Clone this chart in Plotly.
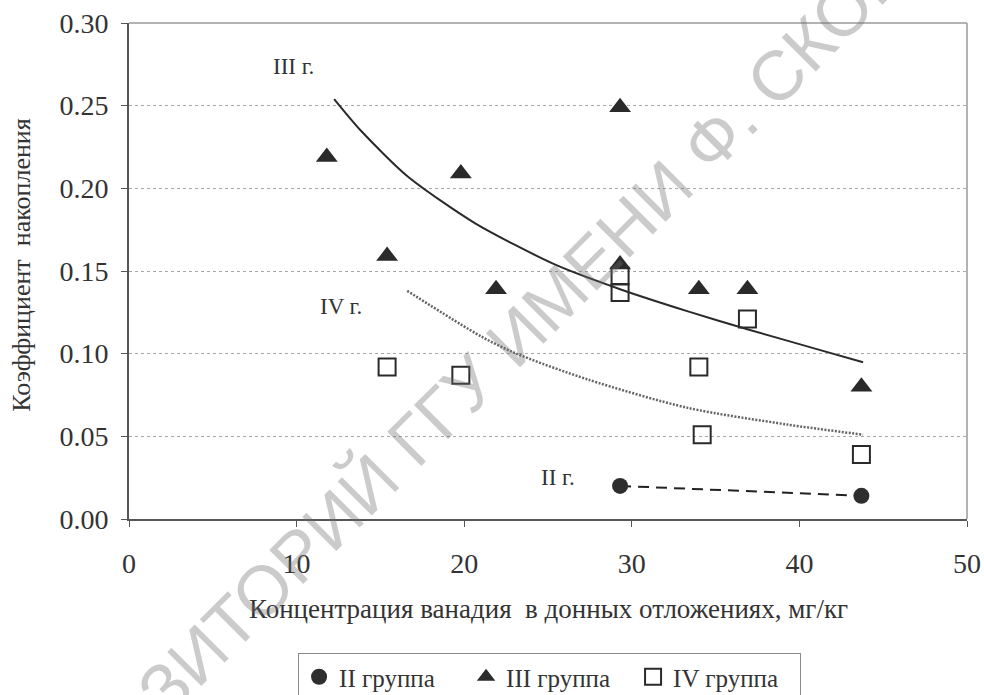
import plotly.graph_objects as go

# ---- data ----
grp2_x = [29.3, 43.7]
grp2_y = [0.020, 0.014]

grp3_x = [11.8, 15.4, 19.8, 21.9, 29.3, 29.3, 34.0, 36.9, 43.7]
grp3_y = [0.219, 0.159, 0.209, 0.139, 0.249, 0.154, 0.139, 0.139, 0.080]

grp4_x = [15.4, 19.8, 29.3, 29.3, 34.0, 34.2, 36.9, 43.7]
grp4_y = [0.092, 0.087, 0.147, 0.137, 0.092, 0.051, 0.121, 0.039]

# trend curves
trend3_x = [12.24, 13.87, 16.65, 20.63, 25.4, 29.3, 33.35, 36.89, 41.3, 43.8]
trend3_y = [0.254, 0.2345, 0.207, 0.179, 0.154, 0.139, 0.1256, 0.1148, 0.1020, 0.0948]

trend4_x = [16.6, 21.0, 23.0, 27.4, 33.35, 39.3, 43.8]
trend4_y = [0.138, 0.1105, 0.1005, 0.0843, 0.0672, 0.0571, 0.051]

x_ticks = [0, 10, 20, 30, 40, 50]
y_ticks = [0.00, 0.05, 0.10, 0.15, 0.20, 0.25, 0.30]

legend_names = ["II группа", "III группа", "IV группа"]
x_title = "Концентрация ванадия \u00a0в донных отложениях, мг/кг"
y_title = "Коэффициент \u00a0накопления"
watermark = "РЕПОЗИТОРИЙ ГГУ ИМЕНИ Ф. СКОРИНЫ"

SERIF = "Liberation Serif, Times New Roman, serif"
TXT = "#333333"

fig = go.Figure()

# trend lines
fig.add_trace(go.Scatter(x=trend3_x, y=trend3_y, mode="lines",
                         line=dict(color="#2a2a2a", width=2, shape="spline", smoothing=0.7),
                         showlegend=False, hoverinfo="skip"))
fig.add_trace(go.Scatter(x=trend4_x, y=trend4_y, mode="lines",
                         line=dict(color="#666666", width=2.5, dash="2px,1.5px", shape="spline", smoothing=0.8),
                         showlegend=False, hoverinfo="skip"))
fig.add_trace(go.Scatter(x=grp2_x, y=grp2_y, mode="lines",
                         line=dict(color="#222222", width=2, dash="11px,7px"),
                         showlegend=False, hoverinfo="skip"))

# markers
fig.add_trace(go.Scatter(x=grp2_x, y=grp2_y, mode="markers", name=legend_names[0],
                         marker=dict(symbol="circle", size=16, color="#2e2e2e",
                                     line=dict(width=0))))
fig.add_trace(go.Scatter(x=grp3_x, y=grp3_y, mode="markers", name=legend_names[1],
                         marker=dict(symbol="triangle-up", size=19, color="#2a2a2a",
                                     line=dict(width=0))))
fig.add_trace(go.Scatter(x=grp4_x, y=grp4_y, mode="markers", name=legend_names[2],
                         marker=dict(symbol="square-open", size=17, color="#2a2a2a",
                                     line=dict(width=2, color="#2a2a2a"))))

fig.update_layout(
    width=984, height=695,
    margin=dict(l=129, r=17, t=23, b=176, autoexpand=False),
    paper_bgcolor="white", plot_bgcolor="white",
    font=dict(family=SERIF, color=TXT, size=24),
    showlegend=True,
    legend=dict(orientation="h", xref="container", yref="container",
                x=0.5585, xanchor="center", y=0.0604, yanchor="top",
                bordercolor="#8a8a8a", borderwidth=1, bgcolor="white",
                font=dict(family=SERIF, size=25, color=TXT),
                itemwidth=30, tracegroupgap=0,
                entrywidth=122, entrywidthmode="pixels"),
    xaxis=dict(range=[0, 50], tickvals=x_ticks, ticktext=[str(v) for v in x_ticks],
               showgrid=False, zeroline=False,
               showline=True, linecolor="#555555", linewidth=2,
               ticks="outside", ticklen=6, tickcolor="#555555",
               tickfont=dict(family=SERIF, size=28, color=TXT),
               ticklabelstandoff=12),
    yaxis=dict(range=[0, 0.30], tickvals=y_ticks, ticktext=["%.2f" % v for v in y_ticks],
               showgrid=True, gridcolor="#a8a8a8", griddash="dot", gridwidth=1,
               zeroline=False,
               showline=True, linecolor="#555555", linewidth=2,
               ticks="outside", ticklen=6, tickcolor="#555555",
               tickfont=dict(family=SERIF, size=28, color=TXT),
               ticklabelstandoff=7),
    shapes=[
        dict(type="line", xref="paper", yref="paper", x0=0, x1=1, y0=1, y1=1,
             line=dict(color="#9a9a9a", width=1.5)),
        dict(type="line", xref="paper", yref="paper", x0=1, x1=1, y0=0, y1=1,
             line=dict(color="#9a9a9a", width=1.5)),
    ],
    annotations=[
        dict(text="III г.", x=9.8, y=0.2736, xref="x", yref="y", showarrow=False,
             font=dict(family=SERIF, size=23, color=TXT)),
        dict(text="IV г.", x=12.67, y=0.1285, xref="x", yref="y", showarrow=False,
             font=dict(family=SERIF, size=23, color=TXT)),
        dict(text="II г.", x=25.6, y=0.025, xref="x", yref="y", showarrow=False,
             font=dict(family=SERIF, size=23, color=TXT)),
        dict(text=x_title, x=0.501, y=-0.182, xref="paper", yref="paper",
             showarrow=False, xanchor="center", yanchor="middle",
             font=dict(family=SERIF, size=27, color=TXT)),
        dict(text=y_title, x=-0.1277, y=0.5126, xref="paper", yref="paper",
             showarrow=False, xanchor="center", yanchor="middle", textangle=-90,
             font=dict(family=SERIF, size=26, color=TXT)),
        dict(text=watermark, x=0.455, y=0.355, xref="paper", yref="paper",
             showarrow=False, xanchor="center", yanchor="middle", textangle=-45,
             font=dict(family="Liberation Sans, Arial, sans-serif", size=70,
                       color="rgba(110,110,110,0.36)")),
    ],
)

fig.write_html("out.html")
